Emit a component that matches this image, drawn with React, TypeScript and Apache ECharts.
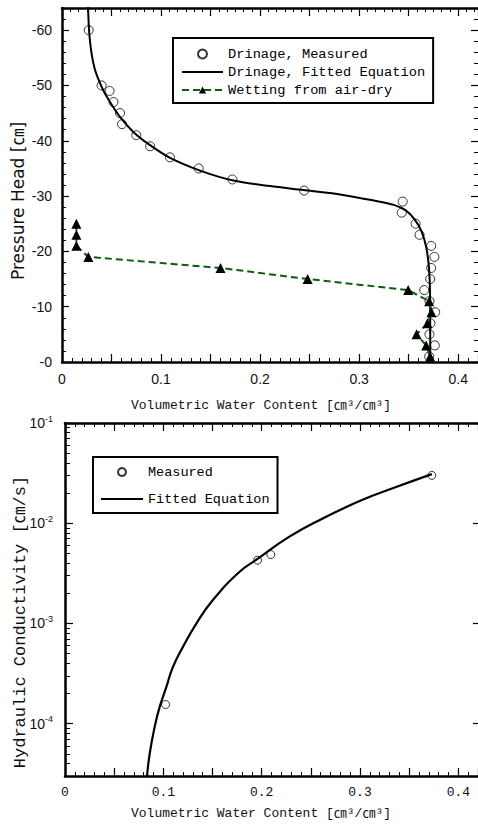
import React, { useEffect, useRef } from 'react';
import * as echarts from 'echarts';

// ---- Top chart: water retention ----
const drainTheta = [0.027, 0.040, 0.048, 0.052, 0.0586, 0.0606, 0.075, 0.089, 0.109, 0.138, 0.172, 0.2444, 0.344, 0.343, 0.357, 0.361, 0.3727, 0.376, 0.3727, 0.3717, 0.3657, 0.371, 0.3768, 0.372, 0.371, 0.3764, 0.3707];
const drainHead = [-60, -50, -49, -47, -45, -43, -41, -39, -37, -35, -33, -31, -29, -27, -25, -23, -21, -19, -17, -15, -13, -11, -9, -7, -5, -3, -1];

const fitTheta = [0.0262, 0.027, 0.028, 0.030, 0.033, 0.037, 0.042, 0.0485, 0.0586, 0.072, 0.0889, 0.1091, 0.1394, 0.173, 0.21, 0.2437, 0.2808, 0.3145, 0.335, 0.347, 0.356, 0.363, 0.368, 0.3705, 0.3715, 0.3717, 0.3718];
const fitHead = [-64.6, -61.0, -58.5, -55.6, -53.0, -51.0, -49.0, -47.0, -44.3, -41.6, -39.2, -36.9, -34.6, -32.8, -31.8, -31.1, -30.3, -29.2, -28.4, -27.4, -25.8, -23.6, -20.5, -17.0, -13.0, -8.0, 0];

const wetTheta = [0.0145, 0.0145, 0.0145, 0.0266, 0.160, 0.248, 0.3495, 0.3707, 0.373, 0.369, 0.358, 0.3677, 0.3717];
const wetHead = [-25, -23, -21, -19, -17, -15, -13, -11, -9, -7, -5, -3, -1];

const thetaLabels = [0, 0.1, 0.2, 0.3, 0.4];
const headLabels = [0, -10, -20, -30, -40, -50, -60];

// ---- Bottom chart: hydraulic conductivity ----
const kMeasTheta = [0.1023, 0.1958, 0.2093, 0.373];
const kMeas = [1.55e-4, 4.27e-3, 4.86e-3, 3.0e-2];

const kFitTheta = [0.0833, 0.0861, 0.0911, 0.0962, 0.103, 0.1097, 0.1198, 0.1334, 0.1502, 0.177, 0.1954, 0.2278, 0.2616, 0.302, 0.336, 0.373];
const kFit = [2.9e-5, 4.98e-5, 9.2e-5, 1.46e-4, 2.31e-4, 3.66e-4, 5.8e-4, 9.9e-4, 1.70e-3, 3.24e-3, 4.37e-3, 7.3e-3, 1.11e-2, 1.70e-2, 2.28e-2, 3.09e-2];

const kDecades = [1e-4, 1e-3, 1e-2, 1e-1];
const kMinorMantissa = [2, 3, 4, 5, 6, 7, 8, 9];
const kMinorDecades = [1e-5, 1e-4, 1e-3, 1e-2];

const BLACK = '#000';
const GREEN = '#0b5d12';
const CLEAR = 'rgba(0,0,0,0)';
const SANS = '"Liberation Sans", Arial, "Noto Sans CJK KR"';
const MONO = '"Liberation Mono", "DejaVu Sans Mono", "Noto Sans CJK KR"';

const zip = (a: number[], b: number[], fy: (v: number) => number = (v) => v) => a.map((x, i) => [x, fy(b[i])]);

export default function App() {
  const ref = useRef<HTMLDivElement>(null);
  useEffect(() => {
    if (!ref.current) return;
    const chart = echarts.init(ref.current, null, { renderer: 'svg' });

    const kMinor: number[] = [];
    kMinorDecades.forEach((d) => kMinorMantissa.forEach((m) => {
      const v = m * d;
      if (v >= 3e-5 && v <= 0.1) kMinor.push(v);
    }));

    const frameX = (grid: number, pos: 'top' | 'bottom', split: number, labels: boolean, labelFont: any) => ({
      type: 'value',
      gridIndex: grid,
      position: pos,
      min: 0,
      max: 0.42,
      interval: 0.05,
      axisLine: { show: true, onZero: false, lineStyle: { color: BLACK, width: 2.5 } },
      axisTick: { show: true, inside: true, length: 8, lineStyle: { color: BLACK, width: 1.2 } },
      minorTick: { show: true, splitNumber: split, length: 4, lineStyle: { color: BLACK, width: 1 } },
      splitLine: { show: false },
      axisLabel: labels
        ? { show: true, margin: 10, customValues: thetaLabels, formatter: (v: number) => (v === 0 ? '0' : String(v)), color: '#111', ...labelFont }
        : { show: false },
    });

    const option: any = {
      animation: false,
      backgroundColor: '#fff',
      grid: [
        { left: 62, top: 8, width: 416, height: 354 },
        { left: 65, top: 423, width: 413, height: 353 },
      ],
      xAxis: [
        frameX(0, 'bottom', 5, true, { fontFamily: SANS, fontSize: 14 }),
        frameX(0, 'top', 6, false, {}),
        frameX(1, 'bottom', 5, true, { fontFamily: MONO, fontSize: 13 }),
        frameX(1, 'top', 5, false, {}),
      ],
      yAxis: [
        {
          type: 'value', gridIndex: 0, position: 'left', min: 0, max: 64, interval: 10,
          axisLine: { show: true, onZero: false, lineStyle: { color: BLACK, width: 2.5 } },
          axisTick: { show: true, inside: true, length: 7, lineStyle: { color: BLACK, width: 1.2 } },
          minorTick: { show: true, splitNumber: 5, length: 4, lineStyle: { color: BLACK, width: 1 } },
          splitLine: { show: false },
          axisLabel: {
            margin: 10, color: '#111', fontFamily: SANS, fontSize: 14,
            customValues: headLabels.map((h) => -h),
            formatter: (v: number) => '-' + v,
          },
        },
        {
          type: 'value', gridIndex: 0, position: 'right', min: 0, max: 64, interval: 10,
          axisLine: { show: true, onZero: false, lineStyle: { color: CLEAR } },
          axisTick: { show: true, inside: true, length: 7, lineStyle: { color: BLACK, width: 1.2 } },
          minorTick: { show: true, splitNumber: 5, length: 4, lineStyle: { color: BLACK, width: 1 } },
          splitLine: { show: false },
          axisLabel: { show: false },
        },
        {
          type: 'log', logBase: 10, gridIndex: 1, position: 'left', min: 3e-5, max: 0.1,
          axisLine: { show: true, onZero: false, lineStyle: { color: BLACK, width: 2.5 } },
          axisTick: { show: true, inside: true, length: 8, customValues: kDecades, lineStyle: { color: BLACK, width: 1.2 } },
          splitLine: { show: false },
          axisLabel: {
            margin: 12, customValues: kDecades,
            formatter: (v: number) => `{b|10}{s|${Math.round(Math.log10(v))}}`,
            rich: {
              b: { fontFamily: SANS, fontSize: 14, color: '#111' },
              s: { fontFamily: SANS, fontSize: 9, color: '#111', padding: [0, 0, 9, 0] },
            },
          },
        },
        {
          type: 'log', logBase: 10, gridIndex: 1, position: 'left', min: 3e-5, max: 0.1,
          axisLine: { show: true, onZero: false, lineStyle: { color: CLEAR } },
          axisTick: { show: true, inside: true, length: 5, customValues: kMinor, lineStyle: { color: BLACK, width: 1 } },
          splitLine: { show: false },
          axisLabel: { show: false },
        },
        {
          type: 'log', logBase: 10, gridIndex: 1, position: 'right', min: 3e-5, max: 0.1,
          axisLine: { show: true, onZero: false, lineStyle: { color: CLEAR } },
          axisTick: { show: true, inside: true, length: 5, customValues: kDecades, lineStyle: { color: BLACK, width: 1.2 } },
          splitLine: { show: false },
          axisLabel: { show: false },
        },
      ],
      legend: [
        {
          orient: 'vertical', left: 173, top: 38,
          data: ['Drinage, Measured', 'Drinage, Fitted Equation', 'Wetting from air-dry'],
          itemWidth: 41, itemHeight: 9, itemGap: 4,
          padding: [9, 8, 6, 8],
          borderColor: BLACK, borderWidth: 2, borderRadius: 0,
          backgroundColor: '#fff',
          textStyle: { fontFamily: MONO, fontSize: 13.7, color: BLACK, lineHeight: 14 },
        },
        {
          orient: 'vertical', left: 93, top: 457,
          data: ['Measured', 'Fitted Equation'],
          itemWidth: 42, itemHeight: 8, itemGap: 13,
          padding: [8, 8, 7, 7],
          borderColor: BLACK, borderWidth: 2, borderRadius: 0,
          backgroundColor: '#fff',
          textStyle: { fontFamily: MONO, fontSize: 13.5, color: BLACK, lineHeight: 14 },
        },
      ],
      graphic: [
        { type: 'text', x: 18, y: 201, rotation: Math.PI / 2,
          style: { text: 'Pressure Head [㎝]', font: '17px "DejaVu Sans", "Noto Sans CJK KR"', fill: '#111', textAlign: 'center', textVerticalAlign: 'middle' } },
        { type: 'text', x: 261, y: 405,
          style: { text: 'Volumetric Water Content [㎝³/㎝³]', font: `13px ${MONO}`, fill: '#111', textAlign: 'center', textVerticalAlign: 'middle' } },
        { type: 'text', x: 20, y: 622, rotation: Math.PI / 2,
          style: { text: 'Hydraulic Conductivity [㎝/s]', font: `17px ${MONO}`, fill: '#111', textAlign: 'center', textVerticalAlign: 'middle' } },
        { type: 'text', x: 261, y: 813,
          style: { text: 'Volumetric Water Content [㎝³/㎝³]', font: `13px ${MONO}`, fill: '#111', textAlign: 'center', textVerticalAlign: 'middle' } },
      ],
      series: [
        {
          name: 'Drinage, Fitted Equation', type: 'line', xAxisIndex: 0, yAxisIndex: 0,
          data: zip(fitTheta, fitHead, (h) => -h),
          smooth: 0.3, symbol: 'none', showSymbol: false,
          lineStyle: { color: BLACK, width: 2 }, itemStyle: { color: CLEAR }, z: 2,
        },
        {
          name: 'Drinage, Measured', type: 'scatter', xAxisIndex: 0, yAxisIndex: 0,
          data: zip(drainTheta, drainHead, (h) => -h),
          symbol: 'circle', symbolSize: 9,
          itemStyle: { color: 'rgba(255,255,255,0)', borderColor: BLACK, borderWidth: 1 }, z: 3,
        },
        {
          name: 'Wetting from air-dry', type: 'line', xAxisIndex: 0, yAxisIndex: 0,
          data: zip(wetTheta, wetHead, (h) => -h),
          symbol: 'triangle', symbolSize: 10, showSymbol: true,
          lineStyle: { color: GREEN, width: 2, type: [7, 4] },
          itemStyle: { color: BLACK }, z: 4,
        },
        {
          name: 'Fitted Equation', type: 'line', xAxisIndex: 2, yAxisIndex: 2,
          data: zip(kFitTheta, kFit),
          smooth: 0.5, symbol: 'none', showSymbol: false,
          lineStyle: { color: BLACK, width: 2.2 }, itemStyle: { color: CLEAR }, z: 2,
        },
        {
          name: 'Measured', type: 'scatter', xAxisIndex: 2, yAxisIndex: 2,
          data: zip(kMeasTheta, kMeas),
          symbol: 'circle', symbolSize: 8,
          itemStyle: { color: 'rgba(255,255,255,0)', borderColor: BLACK, borderWidth: 1 }, z: 3,
        },
      ],
    };

    chart.setOption(option);
    return () => chart.dispose();
  }, []);

  return <div ref={ref} style={{ position: 'absolute', left: 0, top: 0, width: 478, height: 825, background: '#fff' }} />;
}
